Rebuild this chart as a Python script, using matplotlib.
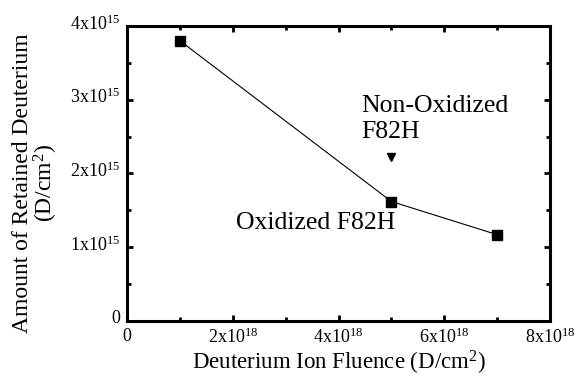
import matplotlib
matplotlib.use("Agg")
import matplotlib.pyplot as plt
import matplotlib.transforms as mtransforms
from matplotlib.ticker import MultipleLocator, FixedFormatter, FixedLocator

plt.rcParams["font.family"] = "Liberation Serif"
plt.rcParams["mathtext.fontset"] = "custom"
plt.rcParams["mathtext.rm"] = "Liberation Serif"
plt.rcParams["mathtext.it"] = "Liberation Serif:italic"

# oxidized F82H
fluence = [1e18, 5e18, 7e18]
retained = [3.8e15, 1.62e15, 1.17e15]

# non-oxidized F82H
fluence_nonox = [5e18]
retained_nonox = [2.22e15]

xticks = [0, 2e18, 4e18, 6e18, 8e18]
xticklabels = ["0", r"2x10$^{18}$", r"4x10$^{18}$", r"6x10$^{18}$", r"8x10$^{18}$"]
yticks = [0, 1e15, 2e15, 3e15, 4e15]
yticklabels = ["0", r"1x10$^{15}$", r"2x10$^{15}$", r"3x10$^{15}$", r"4x10$^{15}$"]

fig = plt.figure(figsize=(5.76, 3.76), dpi=100)
ax = fig.add_axes([0.2205, 0.1463, 0.7345, 0.7846])

ax.plot(fluence, retained, "-", color="black", lw=0.8,
        marker="s", markersize=7.5, markerfacecolor="black", markeredgecolor="black")
ax.plot(fluence_nonox, retained_nonox, "v", color="black", markersize=6)

ax.annotate("Non-Oxidized\nF82H", xy=(fluence_nonox[0], retained_nonox[0]),
            xytext=(-22, 10), textcoords="offset points", fontsize=18.5,
            ha="left", va="bottom", linespacing=1.25)
ax.annotate("Oxidized F82H", xy=(fluence[1], retained[1]),
            xytext=(3, -20), textcoords="offset points", fontsize=18.5,
            ha="right", va="baseline")

ax.set_xlim(0, 8e18)
ax.set_ylim(0, 4e15)
ax.xaxis.set_major_locator(FixedLocator(xticks))
ax.xaxis.set_major_formatter(FixedFormatter(xticklabels))
ax.yaxis.set_major_locator(FixedLocator(yticks))
ax.yaxis.set_major_formatter(FixedFormatter(yticklabels))
ax.xaxis.set_minor_locator(MultipleLocator(1e18))
ax.yaxis.set_minor_locator(MultipleLocator(0.5e15))

ax.tick_params(which="both", direction="in", top=True, right=True, width=2)
ax.tick_params(which="major", length=4, labelsize=13, pad=5)
ax.tick_params(which="minor", length=3)
for s in ax.spines.values():
    s.set_linewidth(2.2)

# y tick labels sit a little above their ticks in the original
shift = mtransforms.ScaledTranslation(0, 3 / 72, fig.dpi_scale_trans)
for lbl in ax.get_yticklabels():
    lbl.set_transform(lbl.get_transform() + shift)

ax.set_xlabel("Deuterium Ion Fluence (D/cm$^2$)", fontsize=16.5, labelpad=1)
ax.set_ylabel("Amount of Retained Deuterium\n(D/cm$^2$)", fontsize=17,
              linespacing=0.95)
ax.yaxis.set_label_coords(-0.158, 0.468)

fig.savefig("out.png", dpi=100)
